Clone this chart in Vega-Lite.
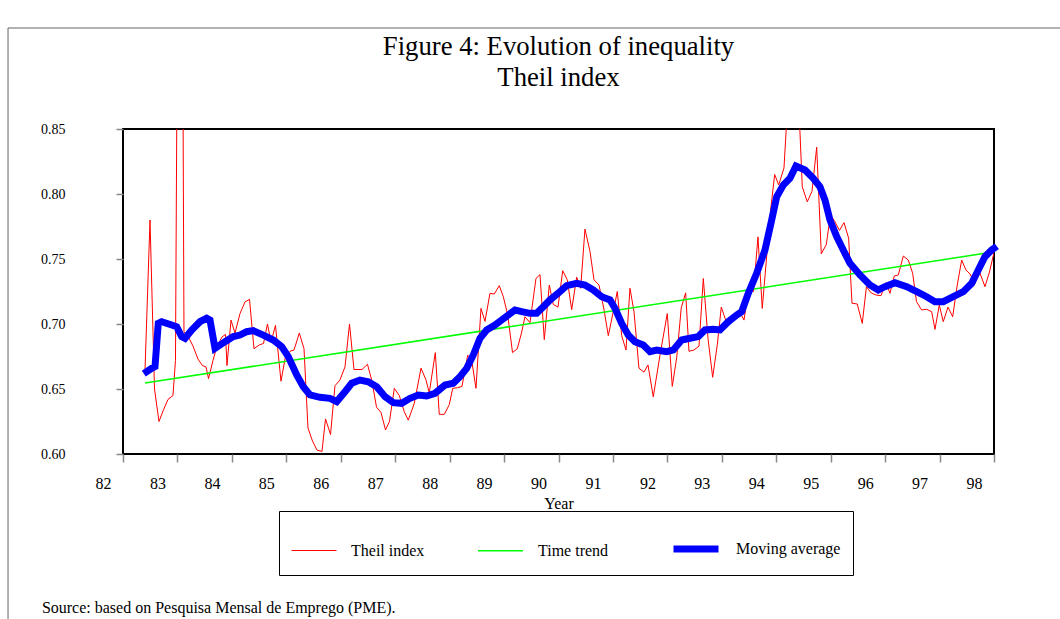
{
  "$schema": "https://vega.github.io/schema/vega-lite/v6.json",
  "width": 871,
  "height": 325,
  "autosize": {"type": "none"},
  "padding": {"left": 123, "top": 129, "right": 66, "bottom": 165},
  "background": "white",
  "title": {"text": ["Figure 4: Evolution of inequality", "Theil index"], "font": "Liberation Serif", "fontSize": 26.7, "fontWeight": "normal", "color": "black", "anchor": "middle", "frame": "group", "lineHeight": 31, "offset": -64, "dx": 0},
  "datasets": {
    "series": [
      {"series": "Theil index", "year": 82.404, "value": 0.664},
      {"series": "Theil index", "year": 82.496, "value": 0.780},
      {"series": "Theil index", "year": 82.579, "value": 0.650},
      {"series": "Theil index", "year": 82.661, "value": 0.625},
      {"series": "Theil index", "year": 82.744, "value": 0.634},
      {"series": "Theil index", "year": 82.827, "value": 0.642},
      {"series": "Theil index", "year": 82.918, "value": 0.645},
      {"series": "Theil index", "year": 82.964, "value": 0.672},
      {"series": "Theil index", "year": 83.019, "value": 1.10},
      {"series": "Theil index", "year": 83.080, "value": 1.10},
      {"series": "Theil index", "year": 83.120, "value": 0.694},
      {"series": "Theil index", "year": 83.203, "value": 0.690},
      {"series": "Theil index", "year": 83.286, "value": 0.683},
      {"series": "Theil index", "year": 83.378, "value": 0.673},
      {"series": "Theil index", "year": 83.460, "value": 0.668},
      {"series": "Theil index", "year": 83.525, "value": 0.667},
      {"series": "Theil index", "year": 83.571, "value": 0.658},
      {"series": "Theil index", "year": 83.653, "value": 0.672},
      {"series": "Theil index", "year": 83.727, "value": 0.683},
      {"series": "Theil index", "year": 83.819, "value": 0.690},
      {"series": "Theil index", "year": 83.883, "value": 0.692},
      {"series": "Theil index", "year": 83.910, "value": 0.668},
      {"series": "Theil index", "year": 83.984, "value": 0.703},
      {"series": "Theil index", "year": 84.057, "value": 0.693},
      {"series": "Theil index", "year": 84.149, "value": 0.708},
      {"series": "Theil index", "year": 84.241, "value": 0.717},
      {"series": "Theil index", "year": 84.324, "value": 0.719},
      {"series": "Theil index", "year": 84.406, "value": 0.681},
      {"series": "Theil index", "year": 84.507, "value": 0.684},
      {"series": "Theil index", "year": 84.581, "value": 0.685},
      {"series": "Theil index", "year": 84.654, "value": 0.700},
      {"series": "Theil index", "year": 84.719, "value": 0.686},
      {"series": "Theil index", "year": 84.801, "value": 0.699},
      {"series": "Theil index", "year": 84.902, "value": 0.656},
      {"series": "Theil index", "year": 84.985, "value": 0.675},
      {"series": "Theil index", "year": 85.068, "value": 0.679},
      {"series": "Theil index", "year": 85.141, "value": 0.680},
      {"series": "Theil index", "year": 85.239, "value": 0.693},
      {"series": "Theil index", "year": 85.325, "value": 0.681},
      {"series": "Theil index", "year": 85.398, "value": 0.620},
      {"series": "Theil index", "year": 85.481, "value": 0.610},
      {"series": "Theil index", "year": 85.564, "value": 0.603},
      {"series": "Theil index", "year": 85.655, "value": 0.602},
      {"series": "Theil index", "year": 85.720, "value": 0.627},
      {"series": "Theil index", "year": 85.812, "value": 0.615},
      {"series": "Theil index", "year": 85.894, "value": 0.6525},
      {"series": "Theil index", "year": 85.986, "value": 0.657},
      {"series": "Theil index", "year": 86.078, "value": 0.667},
      {"series": "Theil index", "year": 86.161, "value": 0.700},
      {"series": "Theil index", "year": 86.243, "value": 0.665},
      {"series": "Theil index", "year": 86.317, "value": 0.665},
      {"series": "Theil index", "year": 86.390, "value": 0.665},
      {"series": "Theil index", "year": 86.491, "value": 0.669},
      {"series": "Theil index", "year": 86.574, "value": 0.656},
      {"series": "Theil index", "year": 86.657, "value": 0.636},
      {"series": "Theil index", "year": 86.739, "value": 0.632},
      {"series": "Theil index", "year": 86.822, "value": 0.6185},
      {"series": "Theil index", "year": 86.895, "value": 0.625},
      {"series": "Theil index", "year": 86.984, "value": 0.6505},
      {"series": "Theil index", "year": 87.075, "value": 0.645},
      {"series": "Theil index", "year": 87.167, "value": 0.6325},
      {"series": "Theil index", "year": 87.241, "value": 0.626},
      {"series": "Theil index", "year": 87.351, "value": 0.639},
      {"series": "Theil index", "year": 87.474, "value": 0.666},
      {"series": "Theil index", "year": 87.566, "value": 0.657},
      {"series": "Theil index", "year": 87.626, "value": 0.647},
      {"series": "Theil index", "year": 87.737, "value": 0.678},
      {"series": "Theil index", "year": 87.810, "value": 0.6305},
      {"series": "Theil index", "year": 87.902, "value": 0.6305},
      {"series": "Theil index", "year": 87.994, "value": 0.638},
      {"series": "Theil index", "year": 88.056, "value": 0.6505},
      {"series": "Theil index", "year": 88.144, "value": 0.651},
      {"series": "Theil index", "year": 88.227, "value": 0.652},
      {"series": "Theil index", "year": 88.332, "value": 0.676},
      {"series": "Theil index", "year": 88.402, "value": 0.673},
      {"series": "Theil index", "year": 88.484, "value": 0.6505},
      {"series": "Theil index", "year": 88.576, "value": 0.712},
      {"series": "Theil index", "year": 88.650, "value": 0.702},
      {"series": "Theil index", "year": 88.741, "value": 0.7236},
      {"series": "Theil index", "year": 88.820, "value": 0.723},
      {"series": "Theil index", "year": 88.912, "value": 0.7295},
      {"series": "Theil index", "year": 88.986, "value": 0.721},
      {"series": "Theil index", "year": 89.067, "value": 0.707},
      {"series": "Theil index", "year": 89.155, "value": 0.678},
      {"series": "Theil index", "year": 89.243, "value": 0.681},
      {"series": "Theil index", "year": 89.320, "value": 0.693},
      {"series": "Theil index", "year": 89.384, "value": 0.7056},
      {"series": "Theil index", "year": 89.476, "value": 0.701},
      {"series": "Theil index", "year": 89.586, "value": 0.735},
      {"series": "Theil index", "year": 89.660, "value": 0.738},
      {"series": "Theil index", "year": 89.739, "value": 0.688},
      {"series": "Theil index", "year": 89.831, "value": 0.730},
      {"series": "Theil index", "year": 89.904, "value": 0.715},
      {"series": "Theil index", "year": 89.991, "value": 0.713},
      {"series": "Theil index", "year": 90.077, "value": 0.741},
      {"series": "Theil index", "year": 90.161, "value": 0.734},
      {"series": "Theil index", "year": 90.242, "value": 0.711},
      {"series": "Theil index", "year": 90.334, "value": 0.736},
      {"series": "Theil index", "year": 90.407, "value": 0.7275},
      {"series": "Theil index", "year": 90.486, "value": 0.773},
      {"series": "Theil index", "year": 90.578, "value": 0.756},
      {"series": "Theil index", "year": 90.652, "value": 0.734},
      {"series": "Theil index", "year": 90.744, "value": 0.730},
      {"series": "Theil index", "year": 90.836, "value": 0.711},
      {"series": "Theil index", "year": 90.915, "value": 0.691},
      {"series": "Theil index", "year": 91.006, "value": 0.7095},
      {"series": "Theil index", "year": 91.080, "value": 0.725},
      {"series": "Theil index", "year": 91.161, "value": 0.691},
      {"series": "Theil index", "year": 91.240, "value": 0.680},
      {"series": "Theil index", "year": 91.313, "value": 0.7275},
      {"series": "Theil index", "year": 91.387, "value": 0.7095},
      {"series": "Theil index", "year": 91.478, "value": 0.666},
      {"series": "Theil index", "year": 91.570, "value": 0.663},
      {"series": "Theil index", "year": 91.644, "value": 0.6685},
      {"series": "Theil index", "year": 91.741, "value": 0.644},
      {"series": "Theil index", "year": 91.864, "value": 0.676},
      {"series": "Theil index", "year": 91.998, "value": 0.708},
      {"series": "Theil index", "year": 92.090, "value": 0.652},
      {"series": "Theil index", "year": 92.171, "value": 0.674},
      {"series": "Theil index", "year": 92.255, "value": 0.7125},
      {"series": "Theil index", "year": 92.336, "value": 0.724},
      {"series": "Theil index", "year": 92.397, "value": 0.679},
      {"series": "Theil index", "year": 92.489, "value": 0.680},
      {"series": "Theil index", "year": 92.581, "value": 0.683},
      {"series": "Theil index", "year": 92.660, "value": 0.735},
      {"series": "Theil index", "year": 92.746, "value": 0.689},
      {"series": "Theil index", "year": 92.832, "value": 0.659},
      {"series": "Theil index", "year": 92.917, "value": 0.684},
      {"series": "Theil index", "year": 92.990, "value": 0.713},
      {"series": "Theil index", "year": 93.071, "value": 0.703},
      {"series": "Theil index", "year": 93.168, "value": 0.704},
      {"series": "Theil index", "year": 93.260, "value": 0.705},
      {"series": "Theil index", "year": 93.346, "value": 0.708},
      {"series": "Theil index", "year": 93.407, "value": 0.703},
      {"series": "Theil index", "year": 93.499, "value": 0.7275},
      {"series": "Theil index", "year": 93.582, "value": 0.725},
      {"series": "Theil index", "year": 93.664, "value": 0.767},
      {"series": "Theil index", "year": 93.743, "value": 0.712},
      {"series": "Theil index", "year": 93.830, "value": 0.755},
      {"series": "Theil index", "year": 93.903, "value": 0.790},
      {"series": "Theil index", "year": 93.971, "value": 0.815},
      {"series": "Theil index", "year": 94.045, "value": 0.807},
      {"series": "Theil index", "year": 94.142, "value": 0.820},
      {"series": "Theil index", "year": 94.225, "value": 0.880},
      {"series": "Theil index", "year": 94.326, "value": 0.910},
      {"series": "Theil index", "year": 94.408, "value": 0.875},
      {"series": "Theil index", "year": 94.478, "value": 0.8056},
      {"series": "Theil index", "year": 94.570, "value": 0.794},
      {"series": "Theil index", "year": 94.656, "value": 0.802},
      {"series": "Theil index", "year": 94.743, "value": 0.836},
      {"series": "Theil index", "year": 94.827, "value": 0.754},
      {"series": "Theil index", "year": 94.919, "value": 0.761},
      {"series": "Theil index", "year": 94.996, "value": 0.784},
      {"series": "Theil index", "year": 95.073, "value": 0.779},
      {"series": "Theil index", "year": 95.161, "value": 0.772},
      {"series": "Theil index", "year": 95.244, "value": 0.778},
      {"series": "Theil index", "year": 95.330, "value": 0.766},
      {"series": "Theil index", "year": 95.391, "value": 0.716},
      {"series": "Theil index", "year": 95.488, "value": 0.7154},
      {"series": "Theil index", "year": 95.580, "value": 0.7005},
      {"series": "Theil index", "year": 95.657, "value": 0.7287},
      {"series": "Theil index", "year": 95.740, "value": 0.724},
      {"series": "Theil index", "year": 95.832, "value": 0.7223},
      {"series": "Theil index", "year": 95.924, "value": 0.7218},
      {"series": "Theil index", "year": 96.016, "value": 0.7318},
      {"series": "Theil index", "year": 96.089, "value": 0.7236},
      {"series": "Theil index", "year": 96.168, "value": 0.7369},
      {"series": "Theil index", "year": 96.242, "value": 0.7377},
      {"series": "Theil index", "year": 96.334, "value": 0.7523},
      {"series": "Theil index", "year": 96.425, "value": 0.7492},
      {"series": "Theil index", "year": 96.506, "value": 0.739},
      {"series": "Theil index", "year": 96.576, "value": 0.7172},
      {"series": "Theil index", "year": 96.671, "value": 0.7108},
      {"series": "Theil index", "year": 96.763, "value": 0.7113},
      {"series": "Theil index", "year": 96.855, "value": 0.7095},
      {"series": "Theil index", "year": 96.916, "value": 0.6959},
      {"series": "Theil index", "year": 96.995, "value": 0.7146},
      {"series": "Theil index", "year": 97.068, "value": 0.7018},
      {"series": "Theil index", "year": 97.155, "value": 0.713},
      {"series": "Theil index", "year": 97.241, "value": 0.7056},
      {"series": "Theil index", "year": 97.325, "value": 0.730},
      {"series": "Theil index", "year": 97.406, "value": 0.7492},
      {"series": "Theil index", "year": 97.485, "value": 0.7415},
      {"series": "Theil index", "year": 97.559, "value": 0.7385},
      {"series": "Theil index", "year": 97.650, "value": 0.731},
      {"series": "Theil index", "year": 97.733, "value": 0.7402},
      {"series": "Theil index", "year": 97.834, "value": 0.7287},
      {"series": "Theil index", "year": 97.917, "value": 0.740},
      {"series": "Theil index", "year": 98.000, "value": 0.755},
      {"series": "Time trend", "year": 82.404, "value": 0.6546},
      {"series": "Time trend", "year": 98.000, "value": 0.7555},
      {"series": "Moving average", "year": 82.435, "value": 0.6633},
      {"series": "Moving average", "year": 82.527, "value": 0.6659},
      {"series": "Moving average", "year": 82.588, "value": 0.6672},
      {"series": "Moving average", "year": 82.648, "value": 0.7005},
      {"series": "Moving average", "year": 82.711, "value": 0.7018},
      {"series": "Moving average", "year": 82.895, "value": 0.6992},
      {"series": "Moving average", "year": 82.986, "value": 0.6979},
      {"series": "Moving average", "year": 83.078, "value": 0.6903},
      {"series": "Moving average", "year": 83.139, "value": 0.6890},
      {"series": "Moving average", "year": 83.262, "value": 0.6954},
      {"series": "Moving average", "year": 83.414, "value": 0.7018},
      {"series": "Moving average", "year": 83.537, "value": 0.7044},
      {"series": "Moving average", "year": 83.598, "value": 0.7031},
      {"series": "Moving average", "year": 83.690, "value": 0.6813},
      {"series": "Moving average", "year": 83.874, "value": 0.6864},
      {"series": "Moving average", "year": 84.026, "value": 0.6903},
      {"series": "Moving average", "year": 84.149, "value": 0.6915},
      {"series": "Moving average", "year": 84.272, "value": 0.6941},
      {"series": "Moving average", "year": 84.393, "value": 0.6949},
      {"series": "Moving average", "year": 84.577, "value": 0.6915},
      {"series": "Moving average", "year": 84.761, "value": 0.6877},
      {"series": "Moving average", "year": 84.915, "value": 0.6826},
      {"series": "Moving average", "year": 85.036, "value": 0.6749},
      {"series": "Moving average", "year": 85.191, "value": 0.6608},
      {"series": "Moving average", "year": 85.312, "value": 0.6518},
      {"series": "Moving average", "year": 85.435, "value": 0.6454},
      {"series": "Moving average", "year": 85.619, "value": 0.6436},
      {"series": "Moving average", "year": 85.802, "value": 0.6428},
      {"series": "Moving average", "year": 85.926, "value": 0.6403},
      {"series": "Moving average", "year": 86.078, "value": 0.6479},
      {"series": "Moving average", "year": 86.201, "value": 0.6544},
      {"series": "Moving average", "year": 86.353, "value": 0.6569},
      {"series": "Moving average", "year": 86.506, "value": 0.6556},
      {"series": "Moving average", "year": 86.660, "value": 0.6518},
      {"series": "Moving average", "year": 86.813, "value": 0.6441},
      {"series": "Moving average", "year": 86.965, "value": 0.6395},
      {"series": "Moving average", "year": 87.119, "value": 0.6390},
      {"series": "Moving average", "year": 87.272, "value": 0.6428},
      {"series": "Moving average", "year": 87.424, "value": 0.6454},
      {"series": "Moving average", "year": 87.579, "value": 0.6446},
      {"series": "Moving average", "year": 87.731, "value": 0.6467},
      {"series": "Moving average", "year": 87.915, "value": 0.6531},
      {"series": "Moving average", "year": 88.067, "value": 0.6544},
      {"series": "Moving average", "year": 88.190, "value": 0.6595},
      {"series": "Moving average", "year": 88.313, "value": 0.6659},
      {"series": "Moving average", "year": 88.435, "value": 0.6762},
      {"series": "Moving average", "year": 88.558, "value": 0.6890},
      {"series": "Moving average", "year": 88.681, "value": 0.6954},
      {"series": "Moving average", "year": 88.833, "value": 0.6992},
      {"series": "Moving average", "year": 88.956, "value": 0.7031},
      {"series": "Moving average", "year": 89.078, "value": 0.7069},
      {"series": "Moving average", "year": 89.201, "value": 0.7108},
      {"series": "Moving average", "year": 89.324, "value": 0.7095},
      {"series": "Moving average", "year": 89.476, "value": 0.7082},
      {"series": "Moving average", "year": 89.599, "value": 0.7082},
      {"series": "Moving average", "year": 89.721, "value": 0.7133},
      {"series": "Moving average", "year": 89.844, "value": 0.7185},
      {"series": "Moving average", "year": 90.027, "value": 0.7249},
      {"series": "Moving average", "year": 90.150, "value": 0.7295},
      {"series": "Moving average", "year": 90.334, "value": 0.7313},
      {"series": "Moving average", "year": 90.486, "value": 0.7300},
      {"series": "Moving average", "year": 90.639, "value": 0.7262},
      {"series": "Moving average", "year": 90.793, "value": 0.7210},
      {"series": "Moving average", "year": 90.946, "value": 0.7185},
      {"series": "Moving average", "year": 91.038, "value": 0.7121},
      {"series": "Moving average", "year": 91.161, "value": 0.7005},
      {"series": "Moving average", "year": 91.282, "value": 0.6915},
      {"series": "Moving average", "year": 91.405, "value": 0.6864},
      {"series": "Moving average", "year": 91.557, "value": 0.6838},
      {"series": "Moving average", "year": 91.681, "value": 0.6787},
      {"series": "Moving average", "year": 91.804, "value": 0.6800},
      {"series": "Moving average", "year": 91.987, "value": 0.6787},
      {"series": "Moving average", "year": 92.109, "value": 0.6800},
      {"series": "Moving average", "year": 92.263, "value": 0.6877},
      {"series": "Moving average", "year": 92.415, "value": 0.6890},
      {"series": "Moving average", "year": 92.568, "value": 0.6903},
      {"series": "Moving average", "year": 92.691, "value": 0.6954},
      {"series": "Moving average", "year": 92.843, "value": 0.6959},
      {"series": "Moving average", "year": 92.966, "value": 0.6954},
      {"series": "Moving average", "year": 93.119, "value": 0.7018},
      {"series": "Moving average", "year": 93.273, "value": 0.7069},
      {"series": "Moving average", "year": 93.365, "value": 0.7095},
      {"series": "Moving average", "year": 93.486, "value": 0.7236},
      {"series": "Moving average", "year": 93.640, "value": 0.7390},
      {"series": "Moving average", "year": 93.793, "value": 0.7569},
      {"series": "Moving average", "year": 93.916, "value": 0.7800},
      {"series": "Moving average", "year": 94.008, "value": 0.7979},
      {"series": "Moving average", "year": 94.129, "value": 0.8069},
      {"series": "Moving average", "year": 94.252, "value": 0.8121},
      {"series": "Moving average", "year": 94.362, "value": 0.8215},
      {"series": "Moving average", "year": 94.528, "value": 0.8185},
      {"series": "Moving average", "year": 94.680, "value": 0.8121},
      {"series": "Moving average", "year": 94.803, "value": 0.8056},
      {"series": "Moving average", "year": 94.895, "value": 0.7954},
      {"series": "Moving average", "year": 94.987, "value": 0.7800},
      {"series": "Moving average", "year": 95.110, "value": 0.7672},
      {"series": "Moving average", "year": 95.231, "value": 0.7569},
      {"series": "Moving average", "year": 95.354, "value": 0.7467},
      {"series": "Moving average", "year": 95.538, "value": 0.7377},
      {"series": "Moving average", "year": 95.722, "value": 0.7300},
      {"series": "Moving average", "year": 95.874, "value": 0.7262},
      {"series": "Moving average", "year": 95.997, "value": 0.7287},
      {"series": "Moving average", "year": 96.181, "value": 0.7318},
      {"series": "Moving average", "year": 96.396, "value": 0.7287},
      {"series": "Moving average", "year": 96.580, "value": 0.7249},
      {"series": "Moving average", "year": 96.763, "value": 0.7210},
      {"series": "Moving average", "year": 96.916, "value": 0.7172},
      {"series": "Moving average", "year": 97.068, "value": 0.7172},
      {"series": "Moving average", "year": 97.252, "value": 0.7210},
      {"series": "Moving average", "year": 97.436, "value": 0.7249},
      {"series": "Moving average", "year": 97.590, "value": 0.7313},
      {"series": "Moving average", "year": 97.711, "value": 0.7415},
      {"series": "Moving average", "year": 97.834, "value": 0.7518},
      {"series": "Moving average", "year": 97.958, "value": 0.7569},
      {"series": "Moving average", "year": 98.000, "value": 0.7582}
    ],
    "note": [{"note": "Source: based on Pesquisa Mensal de Emprego (PME)."}]
  },
  "layer": [
    {
      "data": {"name": "note"},
      "mark": {"type": "rect", "fill": null, "stroke": "#666666", "strokeWidth": 1},
      "encoding": {
        "x": {"datum": 79.888, "type": "quantitative"},
        "x2": {"datum": 100.5},
        "y": {"datum": 0.9277, "type": "quantitative"},
        "y2": {"datum": 0.40}
      }
    },
    {
      "data": {"name": "series"},
      "transform": [{"filter": "datum.series == 'Theil index'"}],
      "mark": {"type": "line", "clip": true},
      "encoding": {
        "x": {"field": "year", "type": "quantitative", "scale": {"domain": [82, 98], "nice": false, "zero": false},
              "axis": {"values": [82, 83, 84, 85, 86, 87, 88, 89, 90, 91, 92, 93, 94, 95, 96, 97, 98], "format": "d", "title": "Year", "labelOffset": -20, "labelFontSize": 16, "labelPadding": 13, "tickSize": 8, "titleFontSize": 16, "titlePadding": 4, "labelFlush": false, "labelOverlap": false}},
        "y": {"field": "value", "type": "quantitative", "scale": {"domain": [0.6, 0.85], "nice": false, "zero": false},
              "axis": {"values": [0.6, 0.65, 0.7, 0.75, 0.8, 0.85], "format": ".2f", "title": null, "labelFontSize": 14, "labelPadding": 51, "tickSize": 7, "labelFlush": false, "labelOverlap": false}},
        "color": {"field": "series", "type": "nominal", "scale": {"domain": ["Theil index", "Time trend", "Moving average"], "range": ["#ff0000", "#00ff00", "#0000ff"]},
                  "legend": {"title": null, "orient": "none", "legendX": 156, "legendY": 382, "direction": "horizontal", "symbolType": "stroke", "symbolSize": 2025, "labelFont": "Liberation Serif", "labelFontSize": 16, "labelColor": "black", "labelOffset": 14, "columnPadding": 50, "padding": 12, "strokeColor": "black", "fillColor": "white"}},
        "strokeWidth": {"field": "series", "type": "nominal", "scale": {"type": "ordinal", "domain": ["Theil index", "Time trend", "Moving average"], "range": [1, 1.5, 7]},
                  "legend": {"title": null, "orient": "none", "legendX": 156, "legendY": 382, "direction": "horizontal", "symbolType": "stroke", "symbolSize": 2025, "labelFont": "Liberation Serif", "labelFontSize": 16, "labelColor": "black", "labelOffset": 14, "columnPadding": 50, "padding": 12, "strokeColor": "black", "fillColor": "white"}}
      }
    },
    {
      "data": {"name": "series"},
      "transform": [{"filter": "datum.series == 'Time trend'"}],
      "mark": {"type": "line"},
      "encoding": {
        "x": {"field": "year", "type": "quantitative"},
        "y": {"field": "value", "type": "quantitative"},
        "color": {"field": "series", "type": "nominal", "scale": {"domain": ["Theil index", "Time trend", "Moving average"], "range": ["#ff0000", "#00ff00", "#0000ff"]}},
        "strokeWidth": {"field": "series", "type": "nominal", "scale": {"type": "ordinal", "domain": ["Theil index", "Time trend", "Moving average"], "range": [1, 1.5, 7]}}
      }
    },
    {
      "data": {"name": "series"},
      "transform": [{"filter": "datum.series == 'Moving average'"}],
      "mark": {"type": "line", "strokeCap": "square"},
      "encoding": {
        "x": {"field": "year", "type": "quantitative"},
        "y": {"field": "value", "type": "quantitative"},
        "color": {"field": "series", "type": "nominal", "scale": {"domain": ["Theil index", "Time trend", "Moving average"], "range": ["#ff0000", "#00ff00", "#0000ff"]}},
        "strokeWidth": {"field": "series", "type": "nominal", "scale": {"type": "ordinal", "domain": ["Theil index", "Time trend", "Moving average"], "range": [1, 1.5, 7]}}
      }
    },
    {
      "data": {"name": "note"},
      "mark": {"type": "text", "align": "left", "baseline": "middle", "font": "Liberation Serif", "fontSize": 16, "color": "black"},
      "encoding": {
        "x": {"datum": 80.51, "type": "quantitative"},
        "y": {"datum": 0.4815, "type": "quantitative"},
        "text": {"field": "note"}
      }
    }
  ],
  "config": {
    "view": {"stroke": "black", "strokeWidth": 2},
    "axis": {"labelFont": "Liberation Serif", "titleFont": "Liberation Serif", "labelColor": "black", "titleColor": "black", "titleFontWeight": "normal", "gridColor": "#888888", "gridWidth": 1.5, "gridOpacity": 1, "tickColor": "#888888", "tickWidth": 1.5, "domain": false}
  }
}
